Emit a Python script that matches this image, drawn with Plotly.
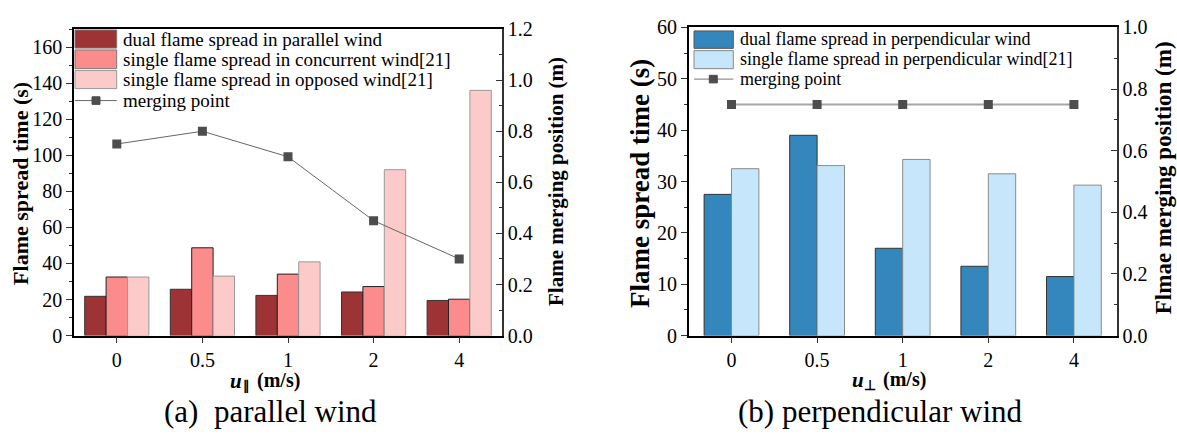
import plotly.graph_objects as go

# ---------------- data ----------------
wind_labels = ["0", "0.5", "1", "2", "4"]

# (a) parallel wind
dual_parallel = [21.8, 25.7, 22.3, 24.2, 19.5]
single_concurrent = [32.5, 48.7, 34.1, 27.2, 20.2]
single_opposed = [32.5, 33.0, 40.9, 92.0, 136.0]
merge_parallel = [0.75, 0.80, 0.70, 0.45, 0.30]

# (b) perpendicular wind
dual_perp = [27.5, 39.0, 17.0, 13.5, 11.5]
single_perp = [32.5, 33.1, 34.3, 31.5, 29.3]
merge_perp = [0.75, 0.75, 0.75, 0.75, 0.75]

# ---------------- styling ----------------
W, H = 1177, 440
FONT = "Liberation Serif"
C_DUAL_PAR = "#9e3335"
C_CONC = "#fc8b8b"
C_OPP = "#fdcaca"
C_DUAL_PERP = "#3487bd"
C_SINGLE_PERP = "#c6e7fb"
C_MARK = "#4d4d4d"


def px(x):
    return x / W


def py(y):
    return 1 - y / H


fig = go.Figure()

# ---- left panel bars ----
bw_a = 0.25
for vals, col, lc, off in [
    (dual_parallel, C_DUAL_PAR, "#333333", -1.5 * bw_a),
    (single_concurrent, C_CONC, "#222222", -0.5 * bw_a),
    (single_opposed, C_OPP, "#9a9a9a", 0.5 * bw_a),
]:
    fig.add_trace(go.Bar(x=wind_labels, y=vals, xaxis="x", yaxis="y",
                         width=bw_a, offset=off, marker=dict(color=col, line=dict(color=lc, width=1)),
                         showlegend=False))
fig.add_trace(go.Scatter(x=wind_labels, y=merge_parallel, xaxis="x", yaxis="y2",
                         mode="lines+markers", line=dict(color="#666666", width=1),
                         marker=dict(symbol="square", size=9, color=C_MARK), showlegend=False))

# ---- right panel bars ----
bw_b = 0.32
for vals, col, lc, off in [
    (dual_perp, C_DUAL_PERP, "#333333", -bw_b),
    (single_perp, C_SINGLE_PERP, "#8a8a8a", 0.0),
]:
    fig.add_trace(go.Bar(x=wind_labels, y=vals, xaxis="x2", yaxis="y3",
                         width=bw_b, offset=off, marker=dict(color=col, line=dict(color=lc, width=1)),
                         showlegend=False))
fig.add_trace(go.Scatter(x=wind_labels, y=merge_perp, xaxis="x2", yaxis="y4",
                         mode="lines+markers", line=dict(color="#a6a6a6", width=2),
                         marker=dict(symbol="square", size=9, color=C_MARK), showlegend=False))

# ---------------- axes ----------------
tickfont = dict(family=FONT, size=20, color="black")
ydom_a = [py(341.7), py(19)]
ydom_b = [py(341.7), py(17.3)]

xcommon = dict(type="category", range=[-0.5, 4.5], showline=True, linecolor="black", linewidth=1.5,
               mirror=True, ticks="outside", ticklen=6, tickcolor="#333", tickwidth=1.2,
               tickfont=tickfont, showgrid=False, zeroline=False, ticklabelstandoff=0)

fig.update_layout(
    xaxis=dict(domain=[px(74), px(502)], anchor="y", **xcommon),
    xaxis2=dict(domain=[px(688.7), px(1116.7)], anchor="y3", **xcommon),
    yaxis=dict(domain=ydom_a, anchor="x", range=[0, 170], dtick=20, tick0=0,
               showline=True, linecolor="black", linewidth=1.5, ticks="outside", ticklen=6,
               tickcolor="#333", tickwidth=1.2, tickfont=tickfont, showgrid=False, zeroline=False,
               minor=dict(dtick=10, ticks="outside", ticklen=3, tickcolor="#333", tickwidth=1)),
    yaxis2=dict(overlaying="y", anchor="x", side="right", range=[0, 1.2], dtick=0.2, tick0=0,
                tickformat=".1f", showline=True, linecolor="#333", linewidth=1.5, ticks="inside",
                ticklen=6, tickcolor="#333", tickwidth=1.2, tickfont=tickfont, showgrid=False,
                zeroline=False,
                minor=dict(dtick=0.1, ticks="inside", ticklen=3, tickcolor="#333", tickwidth=1)),
    yaxis3=dict(domain=ydom_b, anchor="x2", range=[0, 60], dtick=10, tick0=0,
                showline=True, linecolor="black", linewidth=1.5, ticks="outside", ticklen=6,
                tickcolor="#333", tickwidth=1.2, tickfont=tickfont, showgrid=False, zeroline=False,
                minor=dict(dtick=5, ticks="outside", ticklen=3, tickcolor="#333", tickwidth=1)),
    yaxis4=dict(overlaying="y3", anchor="x2", side="right", range=[0, 1.0], dtick=0.2, tick0=0,
                tickformat=".1f", showline=True, linecolor="#333", linewidth=1.5, ticks="inside",
                ticklen=6, tickcolor="#333", tickwidth=1.2, tickfont=tickfont, showgrid=False,
                zeroline=False,
                minor=dict(dtick=0.1, ticks="inside", ticklen=3, tickcolor="#333", tickwidth=1)),
    width=W, height=H, autosize=False,
    margin=dict(l=0, r=0, t=0, b=0),
    paper_bgcolor="white", plot_bgcolor="white",
    font=dict(family=FONT, color="black"),
    showlegend=False,
)

# ---------------- texts ----------------
ann = []


def add_text(x, y, text, size, angle=0, xanchor="center", yanchor="middle"):
    ann.append(dict(x=px(x), y=py(y), xref="paper", yref="paper", text=text, showarrow=False,
                    textangle=angle, xanchor=xanchor, yanchor=yanchor, borderpad=0,
                    font=dict(family=FONT, size=size, color="black")))


# axis titles (rotated)
add_text(21, 182, "<b>Flame spread time (s)</b>", 22, angle=-90)
add_text(556, 180, "<b>Flame merging position (m)</b>", 21, angle=-90)
add_text(640, 182, "<b>Flame spread time (s)</b>", 27, angle=-90)
add_text(1163, 176, "<b>Flmae merging position (m)</b>", 23, angle=-90)

# x axis titles: italic u, subscript symbol, unit
add_text(243, 389, "<b><i>u</i></b>", 21, xanchor="right")
add_text(242, 395, "<b>∥</b>", 13, xanchor="left")
add_text(256, 389, "<b>(m/s)</b>", 20, xanchor="left")
add_text(865, 388, "<b><i>u</i></b>", 21, xanchor="right")
add_text(863, 394, "<b>⊥</b>", 14, xanchor="left")
add_text(882, 388, "<b>(m/s)</b>", 20, xanchor="left")

# captions
add_text(270, 422, "(a)  parallel wind", 31)
add_text(880, 422, "(b) perpendicular wind", 31)

# ---------------- manual legends ----------------
shapes = []


def rect(x0, y0, x1, y1, fill, line):
    shapes.append(dict(type="rect", xref="paper", yref="paper", x0=px(x0), x1=px(x1),
                       y0=py(y1), y1=py(y0), fillcolor=fill, line=dict(color=line, width=1)))


def hline(x0, x1, y, color, width):
    shapes.append(dict(type="line", xref="paper", yref="paper", x0=px(x0), x1=px(x1),
                       y0=py(y), y1=py(y), line=dict(color=color, width=width)))


# left legend
rect(75, 20, 116.7, 39, C_DUAL_PAR, "#777777")
rect(75, 41, 116.7, 60.7, C_CONC, "#777777")
rect(75, 62.7, 116.7, 81.7, C_OPP, "#999999")
hline(75, 116.7, 94.3, "#666666", 1)
rect(92, 90.3, 100, 98.3, C_MARK, C_MARK)
add_text(121.7, 29.5, "dual flame spread in parallel wind", 19, xanchor="left")
add_text(121.7, 51, "single flame spread in concurrent wind[21]", 19, xanchor="left")
add_text(121.7, 72, "single flame spread in opposed wind[21]", 19, xanchor="left")
add_text(121.7, 94, "merging point", 19, xanchor="left")

# right legend
rect(694, 21, 733.3, 39.3, C_DUAL_PERP, "#555555")
rect(694, 41.7, 733.3, 60.7, C_SINGLE_PERP, "#888888")
hline(694, 733.3, 71.7, "#777777", 1)
rect(709.3, 67.7, 717.3, 75.7, C_MARK, C_MARK)
add_text(739.3, 30, "dual flame spread in perpendicular wind", 18, xanchor="left")
add_text(739.3, 51, "single flame spread in perpendicular wind[21]", 18, xanchor="left")
add_text(739.3, 71.5, "merging point", 18, xanchor="left")

fig.update_layout(annotations=ann, shapes=shapes)

fig.write_html("out.html", config={"displayModeBar": False},
               post_script="document.body.style.margin='0';")
